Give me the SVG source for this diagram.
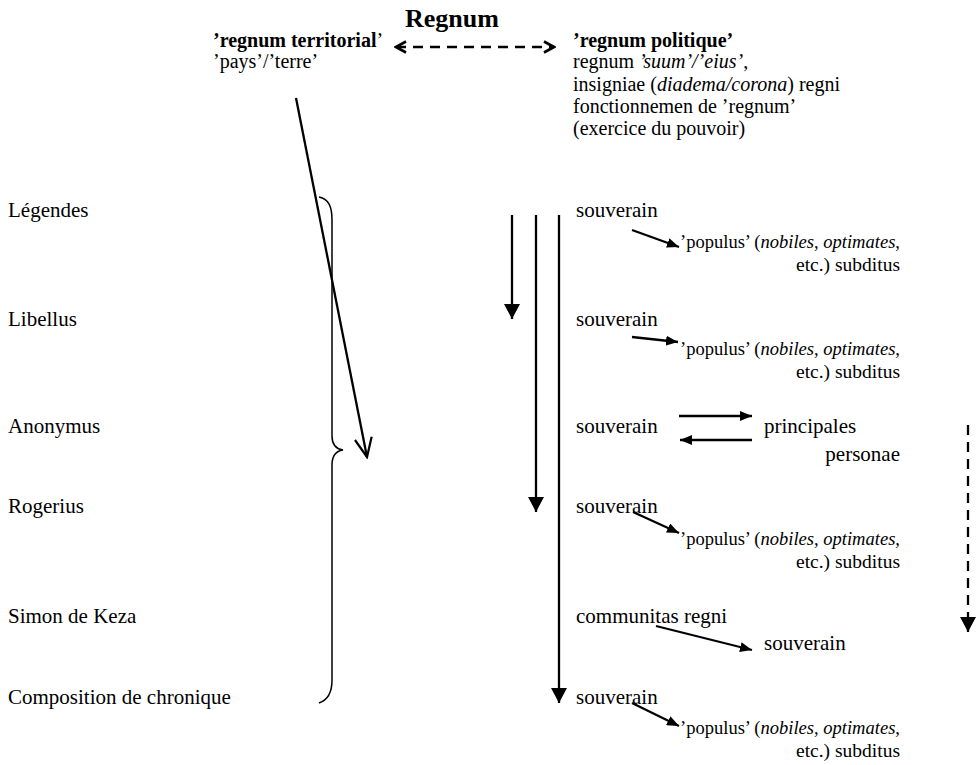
<svg xmlns="http://www.w3.org/2000/svg" width="978" height="765" viewBox="0 0 978 765">
<style>
text{font-family:"Liberation Serif","Times New Roman",serif;fill:#000;font-size:21px}
.h{font-size:20px}
.p{font-size:19.5px}
.title{font-size:26px;font-weight:bold}
.b{font-weight:bold}
.i{font-style:italic}
.ln{stroke:#000;stroke-width:2.3;fill:none}
.dash{stroke-dasharray:10 7}
.brace{stroke:#000;stroke-width:1.5;fill:none}
</style>
<defs>
<marker id="tri" viewBox="0 0 15 16" refX="15" refY="8" markerWidth="15" markerHeight="16" markerUnits="userSpaceOnUse" orient="auto"><path d="M0,0 L15,8 L0,16 z" fill="#000"/></marker>
<marker id="tri2" viewBox="0 0 12 10" refX="12" refY="5" markerWidth="12" markerHeight="10" markerUnits="userSpaceOnUse" orient="auto"><path d="M0,0 L12,5 L0,10 z" fill="#000"/></marker>
<marker id="chev" viewBox="0 0 14 14" refX="12" refY="7" markerWidth="14" markerHeight="14" markerUnits="userSpaceOnUse" orient="auto-start-reverse"><path d="M2,1.5 L12,7 L2,12.5" fill="none" stroke="#000" stroke-width="2.6"/></marker>
<marker id="vee" viewBox="0 0 22 20" refX="20" refY="10" markerWidth="22" markerHeight="20" markerUnits="userSpaceOnUse" orient="auto"><path d="M1,1.5 L20,10 L1,18.5" fill="none" stroke="#000" stroke-width="2.2"/></marker>
</defs>

<g id="title"><text class="title" x="452" y="27" text-anchor="middle">Regnum</text></g>

<g id="regnum-territorial">
<text class="h" x="213" y="47"><tspan class="b">’regnum territorial</tspan>’</text>
<text class="h" x="213" y="68">’pays’/’terre’</text>
</g>

<g id="regnum-politique">
<text class="h" x="573" y="47"><tspan class="b">’regnum politique’</tspan></text>
<text class="h" x="573" y="68">regnum <tspan class="i">’suum’/’eius’</tspan>,</text>
<text class="h" x="573" y="91">insigniae (<tspan class="i">diadema/corona</tspan>) regni</text>
<text class="h" x="573" y="113">fonctionnemen de ’regnum’</text>
<text class="h" x="573" y="135">(exercice du pouvoir)</text>
</g>

<g id="sources">
<text x="8" y="217">Légendes</text>
<text x="8" y="326">Libellus</text>
<text x="8" y="433">Anonymus</text>
<text x="8" y="513">Rogerius</text>
<text x="8" y="623">Simon de Keza</text>
<text x="8" y="704">Composition de chronique</text>
</g>

<g id="row-legendes">
<text x="576" y="217">souverain</text>
<text class="p" x="680" y="248" textLength="220" lengthAdjust="spacingAndGlyphs">’populus’ (<tspan class="i">nobiles</tspan>, <tspan class="i">optimates</tspan>,</text>
<text class="p" x="900" y="271" text-anchor="end">etc.) subditus</text>
</g>
<g id="row-libellus">
<text x="576" y="326">souverain</text>
<text class="p" x="680" y="355" textLength="220" lengthAdjust="spacingAndGlyphs">’populus’ (<tspan class="i">nobiles</tspan>, <tspan class="i">optimates</tspan>,</text>
<text class="p" x="900" y="378" text-anchor="end">etc.) subditus</text>
</g>
<g id="row-anonymus">
<text x="576" y="433">souverain</text>
<text x="764" y="433">principales</text>
<text x="900" y="461" text-anchor="end">personae</text>
</g>
<g id="row-rogerius">
<text x="576" y="513">souverain</text>
<text class="p" x="680" y="545" textLength="220" lengthAdjust="spacingAndGlyphs">’populus’ (<tspan class="i">nobiles</tspan>, <tspan class="i">optimates</tspan>,</text>
<text class="p" x="900" y="568" text-anchor="end">etc.) subditus</text>
</g>
<g id="row-simon">
<text x="576" y="623">communitas regni</text>
<text x="764" y="650">souverain</text>
</g>
<g id="row-composition">
<text x="576" y="704">souverain</text>
<text class="p" x="680" y="734" textLength="220" lengthAdjust="spacingAndGlyphs">’populus’ (<tspan class="i">nobiles</tspan>, <tspan class="i">optimates</tspan>,</text>
<text class="p" x="900" y="757" text-anchor="end">etc.) subditus</text>
</g>

<g id="connectors">
<line class="ln dash" x1="396" y1="47" x2="554" y2="47" marker-start="url(#chev)" marker-end="url(#chev)"/>
<line class="ln" x1="296" y1="98" x2="367" y2="457" marker-end="url(#vee)"/>
<path class="brace" d="M319,197 C329,199 332,207 332,220 L332,436 C332,445 336,449 343,450 C336,451 332,456 332,465 L332,680 C332,693 328,700 319,703"/>
<line class="ln" x1="512" y1="215" x2="512" y2="319" marker-end="url(#tri)"/>
<line class="ln" x1="536" y1="215" x2="536" y2="512" marker-end="url(#tri)"/>
<line class="ln" x1="559" y1="215" x2="559" y2="703" marker-end="url(#tri)"/>
<line class="ln dash" x1="968" y1="425" x2="968" y2="632" marker-end="url(#tri)"/>
<line class="ln" x1="632" y1="230" x2="679" y2="247" marker-end="url(#tri2)"/>
<line class="ln" x1="632" y1="337" x2="678" y2="342" marker-end="url(#tri2)"/>
<line class="ln" x1="679" y1="416" x2="752" y2="416" marker-end="url(#tri2)"/>
<line class="ln" x1="752" y1="440" x2="680" y2="440" marker-end="url(#tri2)"/>
<line class="ln" x1="633" y1="512" x2="679" y2="533" marker-end="url(#tri2)"/>
<line class="ln" x1="656" y1="626" x2="752" y2="650" marker-end="url(#tri2)"/>
<line class="ln" x1="632" y1="703" x2="679" y2="726" marker-end="url(#tri2)"/>
</g>
</svg>
